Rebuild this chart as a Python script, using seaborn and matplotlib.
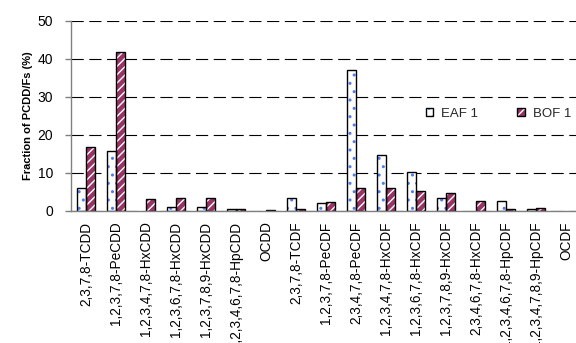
import numpy as np
import pandas as pd
import matplotlib
matplotlib.use("Agg")
import matplotlib.pyplot as plt
from matplotlib.patches import Rectangle, Patch
from matplotlib.legend_handler import HandlerTuple
import seaborn as sns

# PCDD/F congener profiles (% of total) for the two furnace types
congeners = [
    "2,3,7,8-TCDD", "1,2,3,7,8-PeCDD", "1,2,3,4,7,8-HxCDD", "1,2,3,6,7,8-HxCDD",
    "1,2,3,7,8,9-HxCDD", "1,2,3,4,6,7,8-HpCDD", "OCDD", "2,3,7,8-TCDF",
    "1,2,3,7,8-PeCDF", "2,3,4,7,8-PeCDF", "1,2,3,4,7,8-HxCDF", "1,2,3,6,7,8-HxCDF",
    "1,2,3,7,8,9-HxCDF", "2,3,4,6,7,8-HxCDF", "1,2,3,4,6,7,8-HpCDF",
    "1,2,3,4,7,8,9-HpCDF", "OCDF",
]
eaf1 = [6.0, 15.8, 0.0, 0.9, 1.0, 0.5, 0.0, 3.3, 2.0, 37.0, 14.7, 10.2, 3.2, 0.0, 2.4, 0.45, 0.0]
bof1 = [16.7, 41.7, 3.1, 3.3, 3.3, 0.45, 0.2, 0.35, 2.3, 6.0, 6.0, 5.2, 4.6, 2.4, 0.35, 0.7, 0.0]
series_names = ["EAF 1", "BOF 1"]
y_ticks = [0, 10, 20, 30, 40, 50]

df = pd.DataFrame({
    "congener": congeners * 2,
    "fraction": eaf1 + bof1,
    "source": [series_names[0]] * len(congeners) + [series_names[1]] * len(congeners),
})

sns.set_theme(style="white")
plt.rcParams["font.family"] = ["Liberation Sans", "DejaVu Sans"]
plt.rcParams["hatch.linewidth"] = 1.0

styles = {
    "EAF 1": dict(face="white", hatch="..", hatch_color="#4f7df5"),
    "BOF 1": dict(face="#993366", hatch="////", hatch_color="white"),
}

fig = plt.figure(figsize=(5.76, 3.43), dpi=100)
ax = fig.add_axes([71 / 576, 132.5 / 343, 510 / 576, 189.8 / 343])

sns.barplot(
    data=df, x="congener", y="fraction", hue="source",
    order=congeners, hue_order=series_names,
    palette={k: v["face"] for k, v in styles.items()},
    width=0.6, gap=0, dodge=True, saturation=1, legend=False, ax=ax,
)

# hatched fill first, then a black outline on top of each bar
for container, name in zip(ax.containers, series_names):
    st = styles[name]
    for bar in container:
        bar.set_facecolor(st["face"])
        bar.set_edgecolor(st["hatch_color"])
        bar.set_hatch(st["hatch"])
        bar.set_linewidth(0)
        if bar.get_height() > 0:
            ax.add_patch(Rectangle(
                (bar.get_x(), bar.get_y()), bar.get_width(), bar.get_height(),
                fill=False, edgecolor="black", linewidth=1.0,
                zorder=bar.get_zorder() + 0.1,
            ))

ax.set_xlim(-0.5, len(congeners) - 0.5)
ax.set_ylim(0, 50)
ax.set_yticks(y_ticks)
ax.set_yticklabels([str(t) for t in y_ticks], fontsize=10, color="black")

# tick marks between categories, labels at category centres
ax.set_xticks(np.arange(len(congeners) + 1) - 0.5)
ax.set_xticklabels([])
ax.set_xticks(np.arange(len(congeners)), minor=True)
ax.set_xticklabels(congeners, minor=True, rotation=90, fontsize=9.8, color="black")
ax.tick_params(axis="x", which="minor", length=0, pad=8)
ax.tick_params(axis="x", which="major", length=4, width=1, color="#808080", direction="out")
ax.tick_params(axis="y", length=4, width=1, color="#808080", direction="out", pad=9, left=True)

ax.set_xlabel("")
ax.set_ylabel("Fraction of PCDD/Fs (%)", fontsize=8, fontweight="bold", color="black")
ax.yaxis.set_label_coords(-0.074, 0.5)

ax.yaxis.grid(True, color="black", linestyle=(0, (11, 5)), linewidth=0.8)
ax.xaxis.grid(False)
ax.set_axisbelow(True)

for side in ("top", "right"):
    ax.spines[side].set_visible(False)
for side in ("left", "bottom"):
    ax.spines[side].set_color("#808080")
    ax.spines[side].set_linewidth(1)
ax.spines["bottom"].set_zorder(5)

handles = []
for name in series_names:
    st = styles[name]
    handles.append((
        Patch(facecolor=st["face"], edgecolor=st["hatch_color"], hatch=st["hatch"], linewidth=0),
        Patch(fill=False, edgecolor="black", linewidth=1.0),
    ))
ax.legend(
    handles, series_names, handler_map={tuple: HandlerTuple(ndivide=1, pad=0)},
    ncol=2, frameon=False, fontsize=9.5, loc="center left",
    bbox_to_anchor=(0.672, 0.51), handlelength=0.55, handleheight=0.55,
    handletextpad=0.6, columnspacing=3.0, borderpad=0.4,
)

fig.savefig("out.png", dpi=100)
